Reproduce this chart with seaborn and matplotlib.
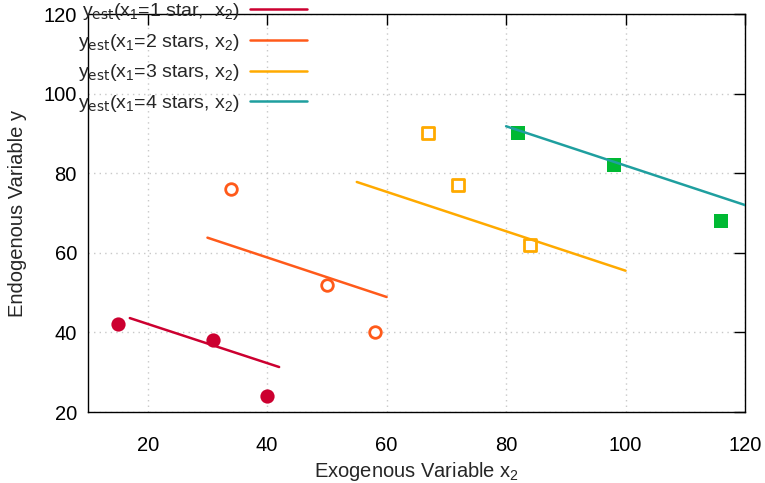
import matplotlib
matplotlib.use("Agg")
import matplotlib.pyplot as plt
import seaborn as sns
import pandas as pd

# ---- data ----
x2_1 = [15, 31, 40]
y_1 = [42, 38, 24]
x2_2 = [34, 50, 58]
y_2 = [76, 52, 40]
x2_3 = [67, 72, 84]
y_3 = [90, 77, 62]
x2_4 = [82, 98, 116]
y_4 = [90, 82, 68]

fit_x_1 = [17, 42]
fit_y_1 = [43.6, 31.3]
fit_x_2 = [30, 60]
fit_y_2 = [63.8, 48.9]
fit_x_3 = [55, 100]
fit_y_3 = [77.8, 55.5]
fit_x_4 = [80, 120]
fit_y_4 = [91.8, 72.0]

labels = [r"y$_{\mathrm{est}}$(x$_1$=1 star,  x$_2$)",
          r"y$_{\mathrm{est}}$(x$_1$=2 stars, x$_2$)",
          r"y$_{\mathrm{est}}$(x$_1$=3 stars, x$_2$)",
          r"y$_{\mathrm{est}}$(x$_1$=4 stars, x$_2$)"]
xticks = [20, 40, 60, 80, 100, 120]
yticks = [20, 40, 60, 80, 100, 120]

sns.set_theme(style="white")
plt.rcParams["font.family"] = ["Liberation Sans", "DejaVu Sans"]
plt.rcParams["mathtext.default"] = "regular"

FS = 14.5

fig = plt.figure(figsize=(7.65, 4.83), dpi=100)
ax = fig.add_axes([88/765, 1-412/483, (745-88)/765, (412-14)/483])

line_colors = ["#cc0030", "#ff5a1a", "#ffaa00", "#1f9f9f"]
marker_colors = ["#cc0030", "#ff5a1a", "#ffaa00", "#00b933"]

pts = [(x2_1, y_1), (x2_2, y_2), (x2_3, y_3), (x2_4, y_4)]
fits = [(fit_x_1, fit_y_1), (fit_x_2, fit_y_2), (fit_x_3, fit_y_3), (fit_x_4, fit_y_4)]
markers = ["o", "o", "s", "s"]
filled = [True, False, False, True]

for i in range(4):
    df = pd.DataFrame({"x": pts[i][0], "y": pts[i][1]})
    if filled[i]:
        sns.scatterplot(data=df, x="x", y="y", ax=ax, marker=markers[i], s=105,
                        color=marker_colors[i], edgecolor=marker_colors[i], linewidth=0, zorder=3)
    else:
        sns.scatterplot(data=df, x="x", y="y", ax=ax, marker=markers[i], s=70,
                        facecolor="white", edgecolor=marker_colors[i], linewidth=2, zorder=3)

for i in range(4):
    df = pd.DataFrame({"x": fits[i][0], "y": fits[i][1]})
    sns.lineplot(data=df, x="x", y="y", ax=ax, color=line_colors[i], linewidth=1.8,
                 label=labels[i], zorder=4)

ax.set_xlim(10, 120)
ax.set_ylim(20, 120)
ax.set_xticks(xticks)
ax.set_yticks(yticks)
ax.tick_params(direction="in", length=8, width=1, top=True, right=True,
               labelsize=FS, colors="black")
ax.tick_params(axis="x", pad=17)
ax.tick_params(axis="y", pad=8)
ax.grid(True, color="#c8c8c8", linestyle=(0, (1, 3)), linewidth=1)
for s in ax.spines.values():
    s.set_visible(True)
    s.set_color("black")
    s.set_linewidth(1)

ax.set_xlabel(r"Exogenous Variable x$_2$", fontsize=FS, labelpad=4)
ax.set_ylabel("Endogenous Variable y", fontsize=FS, labelpad=12)

leg = ax.legend(loc="upper right", bbox_to_anchor=(307/765, 1-1/483),
                bbox_transform=fig.transFigure, frameon=False, markerfirst=False,
                fontsize=14, handlelength=2.95, handletextpad=0.5, labelspacing=0.5,
                borderpad=0, borderaxespad=0)

fig.savefig("out.png", dpi=100)
